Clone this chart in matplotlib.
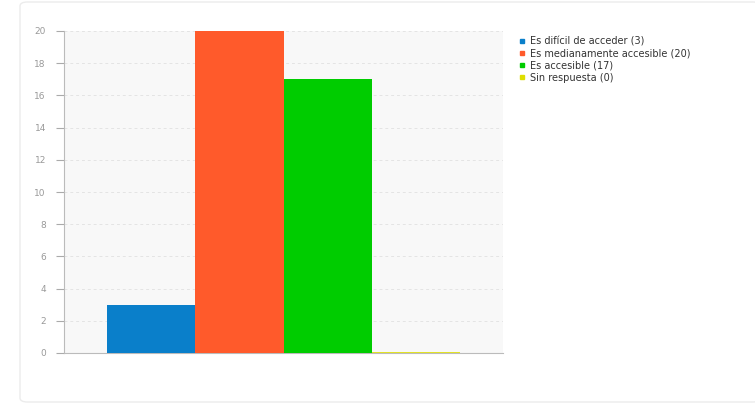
import matplotlib.pyplot as plt
from matplotlib.patches import FancyBboxPatch
from matplotlib.lines import Line2D

categorias = ['Es difícil de acceder', 'Es medianamente accesible', 'Es accesible', 'Sin respuesta']
valores = [3, 20, 17, 0]
colores = ['#0a7fca', '#ff5a2b', '#00cc00', '#dede00']
yticks = [0, 2, 4, 6, 8, 10, 12, 14, 16, 18, 20]

fig = plt.figure(figsize=(7.55, 4.05), dpi=100)
fig.patch.set_facecolor('white')

# marco exterior
marco = FancyBboxPatch((20 / 755, 3 / 405), 740 / 755, 400 / 405,
                       boxstyle='round,pad=0,rounding_size=0.01',
                       transform=fig.transFigure, facecolor='white',
                       edgecolor='#ececec', linewidth=1, zorder=-5)
fig.patches.append(marco)

ax = fig.add_axes([64 / 755, 52 / 405, 439 / 755, 322 / 405])
ax.set_zorder(2)
ax.set_facecolor('#f8f8f8')

pos = list(range(len(valores)))
for p, v, c in zip(pos, valores, colores):
    if v == 0:
        ax.bar(p, v, width=1.0, color=c, edgecolor=c, linewidth=1.2, zorder=3)
    else:
        ax.bar(p, v, width=1.0, color=c, edgecolor='none', zorder=3)

ax.set_xlim(-0.987, 3.987)
ax.set_ylim(0, 20)
ax.set_yticks(yticks)
ax.set_xticks([])
ax.tick_params(axis='y', colors='#aaaaaa', labelcolor='#999999', labelsize=6.5,
               length=6, width=0.8, direction='out', pad=7)
ax.grid(axis='y', color='#e4e4e4', linestyle=(0, (3, 3)), linewidth=0.7, zorder=0)
for lado in ['top', 'right']:
    ax.spines[lado].set_visible(False)
ax.spines['left'].set_color('#bbbbbb')
ax.spines['bottom'].set_color('#bbbbbb')

handles = [Line2D([0], [0], marker='s', linestyle='none', markersize=3.2,
                  markerfacecolor=c, markeredgecolor=c) for c in colores]
etiquetas = [f'{k} ({v})' for k, v in zip(categorias, valores)]
leg = fig.legend(handles, etiquetas, loc='upper left', bbox_to_anchor=(514 / 755, 1 - 33 / 405),
                 frameon=False, fontsize=7, handlelength=0.8, handletextpad=0.4,
                 labelspacing=0.2, borderaxespad=0, labelcolor='#333333')
leg.set_zorder(3)

plt.savefig('out.png', dpi=100)
